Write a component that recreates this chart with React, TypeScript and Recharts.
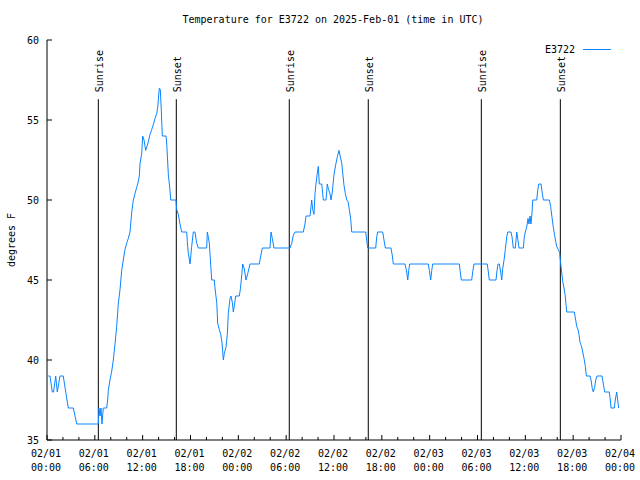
import { Legend, Line, LineChart, ReferenceLine, XAxis, YAxis } from "recharts";

// hours since 02/01 00:00 UTC
const HOURS = [
  0.16, 0.38, 0.66, 0.82, 1.09, 1.29, 1.63, 2.04, 2.35, 2.67, 3.3, 3.73, 6.44, 6.52, 6.65, 6.77, 6.9, 7.06,
  7.49, 7.61, 7.69, 7.9, 8.12, 8.32, 8.53, 8.74, 8.94, 9.16, 9.37, 9.57, 9.78, 10.0, 10.2, 10.41, 10.62, 10.83,
  11.04, 11.25, 11.38, 11.58, 11.67, 11.88, 12.0, 12.17, 12.38, 12.58, 12.76, 12.92, 13.13, 13.33, 13.55, 13.76,
  13.89, 14.09, 14.21, 14.34, 14.46, 14.93, 15.02, 15.22, 15.43, 15.52, 16.18, 16.27, 16.47, 16.68, 16.9, 17.52,
  17.6, 17.72, 17.94, 18.15, 18.35, 18.56, 18.78, 18.98, 20.03, 20.11, 20.23, 20.36, 20.53, 20.66, 20.99, 21.07,
  21.29, 21.41, 21.61, 21.79, 21.95, 22.12, 22.24, 22.45, 22.62, 22.74, 22.96, 23.08, 23.25, 23.37, 23.5, 23.67,
  24.12, 24.25, 24.37, 24.55, 24.75, 24.96, 25.18, 25.46, 26.63, 26.81, 27.01, 27.97, 28.1, 28.26, 28.47, 30.48,
  30.7, 30.9, 31.11, 32.15, 32.36, 32.49, 32.99, 33.12, 33.2, 33.33, 33.49, 33.62, 33.74, 33.91, 34.03, 34.16,
  34.46, 34.66, 35.0, 35.16, 35.29, 35.5, 35.63, 35.79, 36.0, 36.21, 36.42, 36.63, 36.75, 36.97, 37.09, 37.26,
  37.42, 37.6, 37.76, 37.92, 38.1, 38.22, 39.98, 40.1, 40.23, 41.23, 41.36, 41.48, 42.11, 42.27, 42.44, 43.15,
  43.32, 43.44, 44.91, 45.12, 45.25, 45.37, 45.5, 47.83, 47.96, 48.13, 48.26, 48.38, 51.72, 51.84, 51.97, 53.27,
  53.4, 53.56, 55.23, 55.36, 55.48, 56.32, 56.45, 56.57, 56.74, 56.91, 57.04, 57.16, 57.33, 57.49, 57.67, 57.79,
  58.2, 58.33, 58.49, 58.74, 58.92, 59.04, 59.21, 59.75, 59.87, 60.0, 60.17, 60.34, 60.46, 60.59, 60.71, 60.84,
  60.93, 61.43, 61.55, 61.68, 61.97, 62.13, 62.26, 63.01, 63.18, 63.22, 63.39, 63.51, 63.64, 63.81, 63.94, 64.14,
  64.31, 64.44, 64.56, 64.69, 64.85, 64.98, 65.1, 65.19, 66.14, 66.32, 66.44, 66.61, 66.73, 66.86, 67.02, 67.2,
  67.36, 67.53, 67.65, 68.12, 68.24, 68.4, 68.53, 68.7, 68.83, 68.99, 69.62, 69.78, 69.96, 70.53, 70.66, 70.75,
  71.16, 71.28, 71.46, 71.58, 71.71,
];

// degrees F
const TEMPS = [
  39, 39, 38, 38, 39, 38, 39, 39, 38, 37, 37, 36, 36, 37, 36.5, 37, 36, 37,
  37, 37.5, 38.1, 38.75, 39.3, 40, 41, 42.1, 43.5, 44.4, 45.6, 46.25, 46.9, 47.3, 47.6, 48, 49.2, 50,
  50.4, 50.8, 51, 51.5, 52.3, 52.9, 54, 53.75, 53.1, 53.4, 53.75, 54.1, 54.4, 54.7, 55.1, 55.4,
  55.8, 57, 56.9, 55.6, 54, 54, 53.5, 51.6, 50.6, 50, 50, 49.4, 49.1, 48.5, 48, 48,
  47.4, 46.7, 46, 47.1, 48, 48, 47.3, 47, 47, 48, 47.7, 47.3, 46, 45, 45, 44.5,
  43.6, 42.3, 41.9, 41.6, 41.1, 40, 40.4, 40.8, 41.6, 42.9, 43.85, 44, 43.6, 43, 43.4, 44,
  44, 44.4, 45, 46, 45.7, 45, 45.4, 46, 46, 46.5, 47, 47, 48, 47.6, 47, 47,
  47.3, 47.8, 48, 48, 48.5, 49, 49, 49.6, 50, 49.4, 49.1, 50.4, 51, 51.7, 52.1, 51,
  51, 50, 50, 51, 50.7, 50.4, 50, 50.5, 51.6, 52.2, 52.7, 53.1, 52.8, 52.3, 51.7, 50.9,
  50.4, 50, 49.9, 49.4, 48.8, 48, 48, 47.5, 47, 47, 47.7, 48, 48, 47.5, 47, 47,
  46.5, 46, 46, 45.5, 45, 45.6, 46, 46, 45.6, 45, 45.6, 46, 46, 45.5, 45, 45,
  45.5, 46, 46, 45.5, 45, 45, 45.6, 46, 46, 45.5, 45, 45.7, 46.25, 46.9, 47.7, 48,
  48, 47.7, 47, 47, 48, 47.6, 47, 47, 47.7, 48, 48.3, 48.85, 48.5, 49, 48.5, 49.2,
  50, 50, 50.6, 51, 51, 50.4, 50, 50, 49.6, 49.4, 48.75, 48.3, 47.9, 47.4, 47.1, 46.9,
  46.7, 46, 45.5, 44.9, 44.5, 44.1, 43.5, 43, 43, 42.5, 42.1, 41.9, 41.6, 41.1, 40.9, 40.5,
  40.1, 39.6, 39, 39, 38.75, 38.2, 38, 38.3, 38.75, 39, 39, 38.5, 38, 38, 37.5, 37,
  37, 37.5, 38, 37.5, 37,
];

const SUN_HOURS = [6.44, 16.22, 30.39, 40.3, 54.48, 64.39];
const SUN_LABELS = ["Sunrise", "Sunset", "Sunrise", "Sunset", "Sunrise", "Sunset"];
const SUN_LINE_TOP = 56.3;

const X_TICKS = [0, 2, 4, 6, 8, 10, 12, 14, 16, 18, 20, 22, 24, 26, 28, 30, 32, 34, 36, 38, 40, 42, 44, 46, 48, 50, 52, 54, 56, 58, 60, 62, 64, 66, 68, 70, 72];
const Y_TICKS = [35, 40, 45, 50, 55, 60];

const data = HOURS.map((h, i) => ({ h, t: TEMPS[i] }));

const FONT = "'DejaVu Sans Mono', monospace";
const BLUE = "#0a84ff";
const pad = (n: number) => String(n).padStart(2, "0");

function BottomTick({ x, y, payload }: any) {
  const h = payload.value;
  const major = h % 6 === 0;
  return (
    <g>
      <line x1={x} x2={x} y1={y} y2={y - (major ? 5 : 3)} stroke="#000" />
      {major && (
        <text x={x} y={y} textAnchor="middle" fontFamily={FONT} fontSize={10} fill="#000">
          <tspan x={x - 1} dy={17}>{`02/${pad(1 + Math.floor(h / 24))}`}</tspan>
          <tspan x={x - 1} dy={14}>{`${pad(h % 24)}:00`}</tspan>
        </text>
      )}
    </g>
  );
}

function TopTick({ x, y, payload }: any) {
  const major = payload.value % 6 === 0;
  return <line x1={x} x2={x} y1={y} y2={y + (major ? 5 : 3)} stroke="#000" />;
}

function LeftTick({ x, y, payload }: any) {
  return (
    <g>
      <line x1={x} x2={x + 5} y1={y} y2={y} stroke="#000" />
      <text x={x - 8} y={y} dy={4} textAnchor="end" fontFamily={FONT} fontSize={10} fill="#000">
        {payload.value}
      </text>
    </g>
  );
}

function RightTick({ x, y }: any) {
  return <line x1={x} x2={x - 5} y1={y} y2={y} stroke="#000" />;
}

const sunLabel = (text: string) => (props: any) => {
  const { x, y } = props.viewBox;
  const ty = y - 7;
  return (
    <text x={x} y={ty} dy={5} transform={`rotate(-90 ${x} ${ty})`} fontFamily={FONT} fontSize={10} fill="#000">
      {text}
    </text>
  );
};

const yTitle = (props: any) => {
  const { x, y, height } = props.viewBox;
  const cx = x + 11;
  const cy = y + height / 2;
  return (
    <text x={cx} y={cy} dy={4} textAnchor="middle" transform={`rotate(-90 ${cx} ${cy})`} fontFamily={FONT} fontSize={10} fill="#000">
      degrees F
    </text>
  );
};

function LegendBox({ payload }: any) {
  return (
    <div style={{ display: "flex", alignItems: "center", fontFamily: FONT, fontSize: 10, lineHeight: "12px" }}>
      {(payload || []).map((p: any) => (
        <div key={p.value} style={{ display: "flex", alignItems: "center" }}>
          <span>{p.value}</span>
          <svg width={36} height={12}>
            <line x1={8} x2={36} y1={5.5} y2={5.5} stroke={p.color} />
          </svg>
        </div>
      ))}
    </div>
  );
}

export default function App() {
  return (
    <div style={{ position: "absolute", left: 0, top: 0, width: 640, height: 480, background: "#fff" }}>
      <div
        style={{
          position: "absolute",
          top: 14,
          left: 13,
          width: 640,
          textAlign: "center",
          fontFamily: FONT,
          fontSize: 10,
          lineHeight: "12px",
        }}
      >
        Temperature for E3722 on 2025-Feb-01 (time in UTC)
      </div>
      <LineChart width={640} height={480} data={data} margin={{ top: 40, right: 19, bottom: 0, left: 0 }}>
        <XAxis
          dataKey="h"
          type="number"
          domain={[0, 72]}
          ticks={X_TICKS}
          interval={0}
          height={40}
          tickSize={0}
          tickMargin={0}
          tickLine={false}
          axisLine={{ stroke: "#000" }}
          tick={BottomTick}
        />
        <XAxis
          xAxisId="top"
          orientation="top"
          dataKey="h"
          type="number"
          domain={[0, 72]}
          ticks={X_TICKS}
          interval={0}
          height={0}
          tickSize={0}
          tickMargin={0}
          tickLine={false}
          axisLine={{ stroke: "#000" }}
          tick={TopTick}
        />
        <YAxis
          type="number"
          domain={[35, 60]}
          ticks={Y_TICKS}
          interval={0}
          width={47}
          tickSize={0}
          tickMargin={0}
          tickLine={false}
          axisLine={{ stroke: "#000" }}
          tick={LeftTick}
          label={yTitle}
        />
        <YAxis
          yAxisId="right"
          orientation="right"
          type="number"
          domain={[35, 60]}
          ticks={Y_TICKS}
          interval={0}
          width={0}
          tickSize={0}
          tickMargin={0}
          tickLine={false}
          axisLine={{ stroke: "#000" }}
          tick={RightTick}
        />
        {SUN_HOURS.map((h, i) => (
          <ReferenceLine
            key={i}
            segment={[
              { x: h, y: SUN_LINE_TOP },
              { x: h, y: 35 },
            ]}
            stroke="#000"
            strokeWidth={1}
            label={sunLabel(SUN_LABELS[i])}
          />
        ))}
        <Legend
          layout="vertical"
          align="center"
          verticalAlign="middle"
          wrapperStyle={{ top: 44, left: 545, width: 80 }}
          content={LegendBox}
        />
        <Line
          type="linear"
          dataKey="t"
          name="E3722"
          stroke={BLUE}
          strokeWidth={1}
          dot={false}
          activeDot={false}
          isAnimationActive={false}
        />
      </LineChart>
    </div>
  );
}
